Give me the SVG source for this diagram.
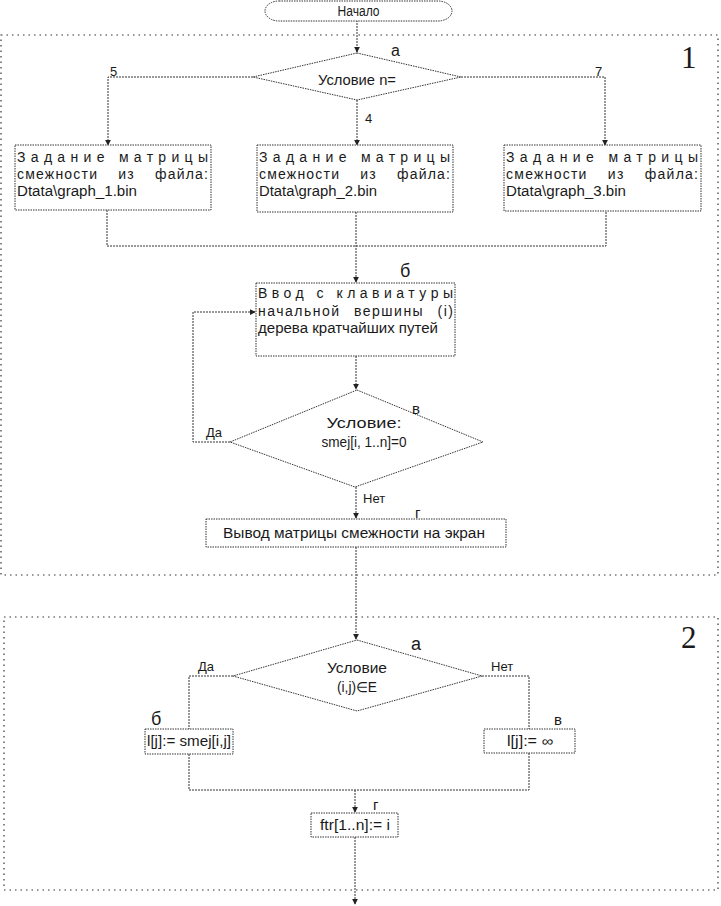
<svg xmlns="http://www.w3.org/2000/svg" width="721" height="906" viewBox="0 0 721 906">
<defs>
<marker id="arr" viewBox="0 0 8 8" refX="7" refY="4" markerWidth="6" markerHeight="6" orient="auto" markerUnits="userSpaceOnUse">
<path d="M0,0 L8,4 L0,8 Z" fill="#222"/>
</marker>
</defs>
<style>
.fr{fill:none;stroke:#333;stroke-width:1.2;stroke-dasharray:1.5 4}
.bx{fill:#fff;stroke:#333;stroke-width:1;stroke-dasharray:1.5 1}
.cn{fill:none;stroke:#333;stroke-width:1;stroke-dasharray:2 1}
.t{font-family:"Liberation Sans",Arial,sans-serif;font-size:14px;fill:#1a1a1a}
.ws{word-spacing:15px}
.c{text-anchor:middle}
.lb{font-family:"Liberation Sans",Arial,sans-serif;font-size:16px;fill:#1a1a1a}
.lm{font-family:"Liberation Sans",Arial,sans-serif;font-size:15px;fill:#1a1a1a}
.sm{font-family:"Liberation Sans",Arial,sans-serif;font-size:13px;fill:#1a1a1a}
.big{font-family:"Liberation Serif","Times New Roman",serif;font-size:31px;fill:#1a1a1a}
</style>
<g id="frame1"><rect class="fr" x="1" y="35" width="717" height="540"/><text class="big" x="681" y="68">1</text></g>
<g id="frame2"><rect class="fr" x="4" y="617" width="714" height="273"/><text class="big" x="681" y="648">2</text></g>

<g id="connectors">
<path class="cn" d="M357,20 V52" marker-end="url(#arr)"/>
<path class="cn" d="M253,77 H108 V145" marker-end="url(#arr)"/>
<path class="cn" d="M461,77 H605 V145" marker-end="url(#arr)"/>
<path class="cn" d="M357,100 V145" marker-end="url(#arr)"/>
<path class="cn" d="M107,210 V246 H606 V211"/>
<path class="cn" d="M356,212 V282" marker-end="url(#arr)"/>
<path class="cn" d="M356,356 V389" marker-end="url(#arr)"/>
<path class="cn" d="M230,442 H193 V312 H255" marker-end="url(#arr)"/>
<path class="cn" d="M356,487 V518" marker-end="url(#arr)"/>
<path class="cn" d="M356,547 V639" marker-end="url(#arr)"/>
<path class="cn" d="M233,676 H189 V729"/>
<path class="cn" d="M482,676 H529 V729"/>
<path class="cn" d="M189,754 V790 H529 V753"/>
<path class="cn" d="M355,790 V812" marker-end="url(#arr)"/>
<path class="cn" d="M355,837 V904" marker-end="url(#arr)"/>
</g>

<g id="start"><rect class="bx" x="265" y="1" width="187" height="20" rx="14" ry="10"/><text class="t c" x="358.5" y="16" textLength="42" lengthAdjust="spacingAndGlyphs">Начало</text></g>

<g id="cond1">
<polygon class="bx" points="357,53 461,77 357,100 253,77"/>
<text class="t c" x="357" y="85" textLength="78" lengthAdjust="spacingAndGlyphs">Условие n=</text>
<text class="lb" x="391" y="56">а</text>
<text class="sm" x="110" y="76">5</text>
<text class="sm" x="595" y="76">7</text>
<text class="sm" x="365" y="123">4</text>
</g>

<g id="box1"><rect class="bx" x="15" y="145" width="196" height="65"/>
<text class="t" x="17" y="162" textLength="191" lengthAdjust="spacing">Задание матрицы</text>
<text class="t ws" x="17" y="179" textLength="191" lengthAdjust="spacing">смежности из файла:</text>
<text class="t" x="17" y="196" textLength="120" lengthAdjust="spacingAndGlyphs">Dtata\graph_1.bin</text></g>

<g id="box2"><rect class="bx" x="257" y="145" width="196" height="67"/>
<text class="t" x="259" y="162" textLength="191" lengthAdjust="spacing">Задание матрицы</text>
<text class="t ws" x="259" y="179" textLength="191" lengthAdjust="spacing">смежности из файла:</text>
<text class="t" x="259" y="196" textLength="118" lengthAdjust="spacingAndGlyphs">Dtata\graph_2.bin</text></g>

<g id="box3"><rect class="bx" x="504" y="145" width="197" height="66"/>
<text class="t" x="506" y="162" textLength="192" lengthAdjust="spacing">Задание матрицы</text>
<text class="t ws" x="506" y="179" textLength="192" lengthAdjust="spacing">смежности из файла:</text>
<text class="t" x="506" y="196" textLength="120" lengthAdjust="spacingAndGlyphs">Dtata\graph_3.bin</text></g>

<g id="boxB"><rect class="bx" x="256" y="283" width="199" height="73"/>
<text class="lb" x="400" y="277" style="font-size:18px">б</text>
<text class="t" x="258" y="298" textLength="195" lengthAdjust="spacing">Ввод с клавиатуры</text>
<text class="t" x="258" y="316" textLength="195" lengthAdjust="spacing" style="word-spacing:8px">начальной вершины (i)</text>
<text class="t" x="258" y="333" textLength="180" lengthAdjust="spacingAndGlyphs">дерева кратчайших путей</text></g>

<g id="condV">
<polygon class="bx" points="357,390 483,442 355,487 230,442"/>
<text class="t c" x="364" y="428" textLength="75" lengthAdjust="spacingAndGlyphs">Условие:</text>
<text class="t c" x="364" y="447" textLength="85" lengthAdjust="spacingAndGlyphs">smej[i, 1..n]=0</text>
<text class="lm" x="412" y="414">в</text>
<text class="sm" x="206" y="437">Да</text>
<text class="sm" x="363" y="503">Нет</text>
</g>

<g id="boxG"><rect class="bx" x="206" y="519" width="300" height="28"/>
<text class="lm" x="415" y="518">г</text>
<text class="t c" x="354" y="538" textLength="262" lengthAdjust="spacingAndGlyphs">Вывод матрицы смежности на экран</text></g>

<g id="cond2">
<polygon class="bx" points="357,640 482,676 357,711 233,676"/>
<text class="t c" x="357" y="673" textLength="60" lengthAdjust="spacingAndGlyphs">Условие</text>
<text class="t c" x="357" y="692" textLength="40" lengthAdjust="spacingAndGlyphs">(i,j)∈E</text>
<text class="lb" x="411" y="650" style="font-size:18px">а</text>
<text class="sm" x="198" y="671">Да</text>
<text class="sm" x="491" y="671">Нет</text>
</g>

<g id="boxB2"><rect class="bx" x="145" y="729" width="88" height="25"/>
<text class="lb" x="151" y="725" style="font-size:18px">б</text>
<text class="t c" x="189" y="746" textLength="84" lengthAdjust="spacingAndGlyphs">l[j]:= smej[i,j]</text></g>

<g id="boxV2"><rect class="bx" x="484" y="729" width="91" height="24"/>
<text class="lm" x="554" y="725">в</text>
<text class="t c" x="530" y="746" textLength="46" lengthAdjust="spacingAndGlyphs">l[j]:= ∞</text></g>

<g id="boxG2"><rect class="bx" x="311" y="813" width="87" height="24"/>
<text class="lm" x="373" y="810">г</text>
<text class="t c" x="355" y="830" textLength="70" lengthAdjust="spacingAndGlyphs">ftr[1..n]:= i</text></g>
</svg>
